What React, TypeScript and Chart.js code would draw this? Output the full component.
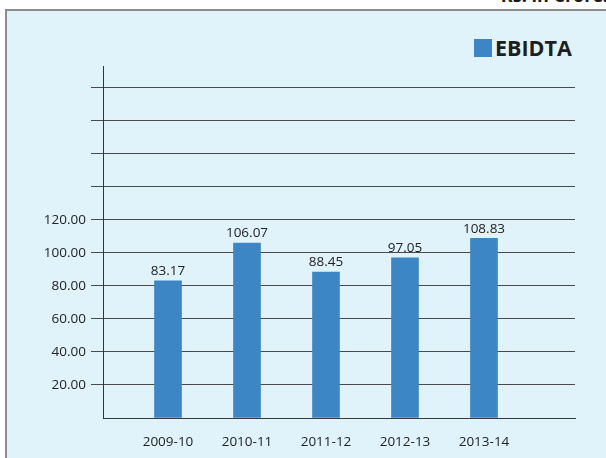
import React, { useEffect, useRef } from "react";
import { Chart, registerables } from "chart.js";

Chart.register(...registerables);

const categories = ["2009-10", "2010-11", "2011-12", "2012-13", "2013-14"];
const ebidta = [83.17, 106.07, 88.45, 97.05, 108.83];
const seriesName = "EBIDTA";
const unitText = "Rs. in Crores";

const BAR = "#3c86c6";
const FONT = "'Open Sans', 'Noto Sans', sans-serif";

const valueLabels = {
  id: "valueLabels",
  afterDatasetsDraw(chart: any) {
    const { ctx } = chart;
    const meta = chart.getDatasetMeta(0);
    ctx.save();
    ctx.font = `13.5px ${FONT}`;
    ctx.fillStyle = "#222";
    ctx.textAlign = "center";
    ctx.textBaseline = "bottom";
    meta.data.forEach((el: any, i: number) => {
      ctx.fillText(ebidta[i].toFixed(2), el.x, el.y - 3);
    });
    ctx.restore();
  },
};

export default function App() {
  const ref = useRef<HTMLCanvasElement>(null);
  useEffect(() => {
    const chart = new Chart(ref.current!, {
      type: "bar",
      data: {
        datasets: [
          {
            label: seriesName,
            data: ebidta.map((v, i) => ({ x: i, y: v })),
            backgroundColor: BAR,
            barThickness: 27,
          },
        ],
      },
      options: {
        animation: false,
        responsive: false,
        layout: { padding: { top: 66, right: 31, left: 0, bottom: 0 } },
        plugins: { legend: { display: false }, tooltip: { enabled: false } },
        scales: {
          x: {
            type: "linear",
            offset: false,
            min: -0.8228,
            max: 5.152,
            afterBuildTicks(scale: any) {
              scale.ticks = categories.map((_, i) => ({ value: i }));
            },
            afterFit(scale: any) {
              scale.height = 40;
            },
            grid: { display: false, offset: false },
            border: { display: true, color: "#3a3a3a", width: 1 },
            ticks: {
              padding: 8,
              color: "#222",
              font: { family: FONT, size: 13.5 },
              maxRotation: 0,
              autoSkip: false,
              callback: (v: any) => categories[v] ?? "",
            },
          },
          y: {
            min: 0,
            max: 213.33,
            afterFit(scale: any) {
              scale.width = 103;
            },
            border: { display: true, color: "#333", width: 1 },
            grid: {
              color: (c: any) =>
                c.tick && c.tick.value > 0 && c.tick.value <= 200 ? "#4a4a4a" : "rgba(0,0,0,0)",
              tickLength: 12,
              lineWidth: 1,
            },
            ticks: {
              stepSize: 20,
              padding: 5,
              color: "#222",
              font: { family: FONT, size: 13.5 },
              callback: (v: any) => (v > 0 && v <= 120 ? Number(v).toFixed(2) : ""),
            },
          },
        },
      },
      plugins: [valueLabels],
    });
    return () => chart.destroy();
  }, []);

  return (
    <div style={{ position: "fixed", left: 0, top: 0, width: 606, height: 458, background: "#fff", overflow: "hidden" }}>
      <div
        style={{
          position: "absolute",
          right: -6,
          top: -17,
          fontFamily: FONT,
          fontWeight: 700,
          fontSize: 18,
          color: "#1a1a1a",
          whiteSpace: "nowrap",
        }}
      >
        {unitText}
      </div>
      <div
        style={{
          position: "absolute",
          left: 5,
          top: 9,
          width: 601,
          height: 449,
          boxSizing: "border-box",
          borderTop: "2px solid #8c8c8c",
          borderLeft: "2px solid #8c8c8c",
          background: "#e0f3fb",
        }}
      />
      <div
        style={{
          position: "absolute",
          left: 474,
          top: 33,
          display: "flex",
          alignItems: "center",
          fontFamily: FONT,
          fontWeight: 700,
          fontSize: 21.5,
          color: "#1e1e1e",
        }}
      >
        <span style={{ display: "inline-block", width: 18, height: 18, background: BAR, marginRight: 3 }} />
        <span>{seriesName}</span>
      </div>
      <canvas ref={ref} width={606} height={458} style={{ position: "absolute", left: 0, top: 0 }} />
    </div>
  );
}
